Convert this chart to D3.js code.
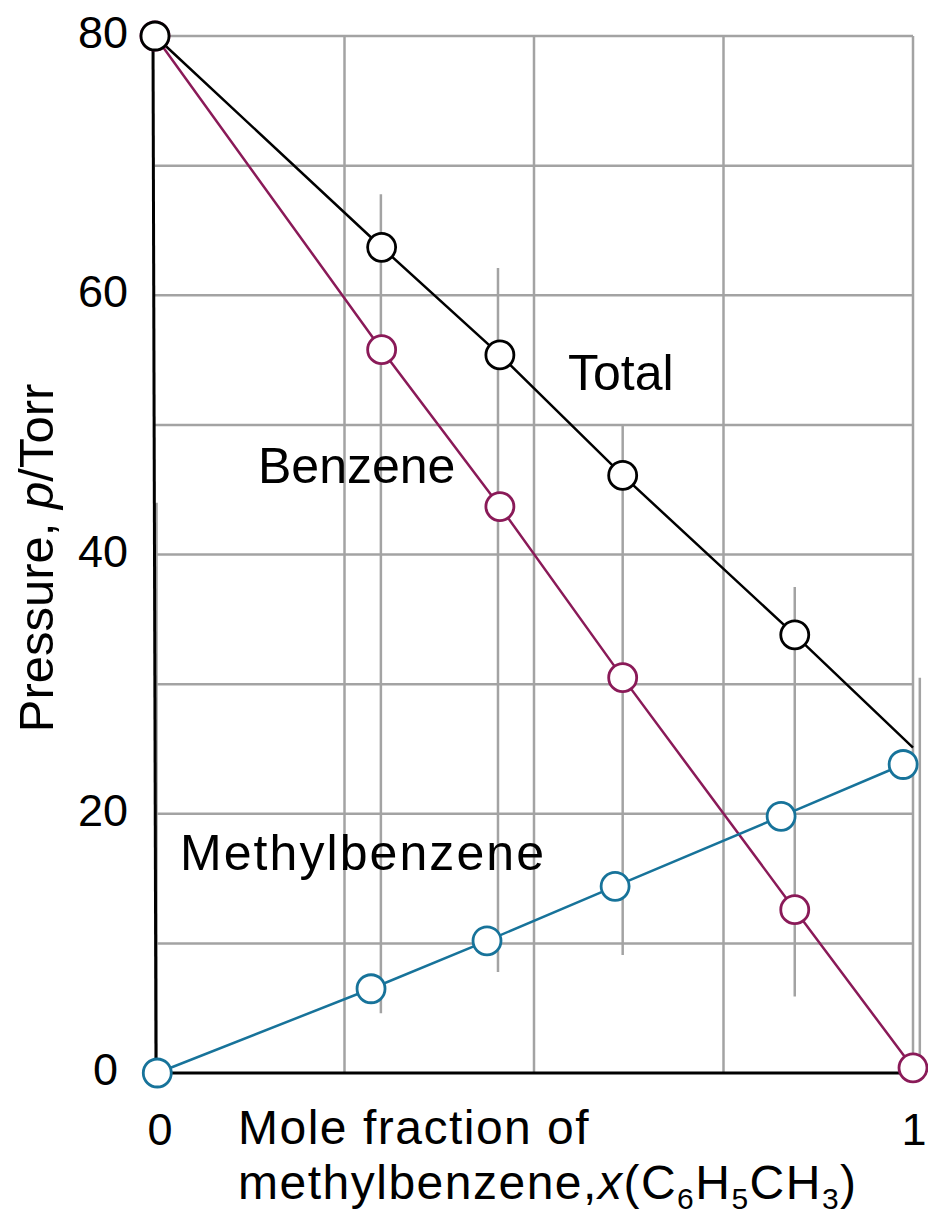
<!DOCTYPE html>
<html>
<head>
<meta charset="utf-8">
<script src="https://cdn.jsdelivr.net/npm/d3@7"></script>
<style>
  body { margin: 0; background: #fff; overflow: hidden; }
  svg { display: block; font-family: "Liberation Sans", Arial, sans-serif; }
</style>
</head>
<body>
<div id="chart"></div>
<script>
// mole fraction of methylbenzene where the measurements were taken
const moleX = [0, 0.299, 0.455, 0.617, 0.844, 1];
const totalP = [80, 63.7, 55.4, 46.1, 33.8, 25.1];
const benzeneP = [80, 55.8, 43.7, 30.5, 12.6, 0.4];
// methylbenzene points sit a little left of the others in the figure
const methylX = [0.003, 0.285, 0.438, 0.607, 0.826, 0.987];
const methylP = [0, 6.5, 10.2, 14.4, 19.8, 23.8];

// grey drop lines at each composition
const dropX = [0.002, 0.298, 0.4525, 0.617, 0.844, 1.009];
const dropTop = [44, 67.8, 62.1, 50.0, 37.5, 30.5];
const dropBottom = [0, 4.6, 7.8, 9.1, 5.9, 0];

const yTicks = [0, 20, 40, 60, 80];
const yGrid = [10, 20, 30, 40, 50, 60, 70, 80];
const xGrid = [0.25, 0.5, 0.75, 1];
const xTicks = [0, 1];

const width = 928;
const height = 1216;

const x = d3.scaleLinear().domain([0, 1]).range([155, 913]);
const y = d3.scaleLinear().domain([0, 80]).range([1073, 36]);

const svg = d3.select("#chart").append("svg")
    .attr("width", width)
    .attr("height", height)
    .attr("viewBox", [0, 0, width, height]);

const grey = "#a3a3a3";
const purple = "#8a1a58";
const teal = "#17739a";

// grid
svg.append("g")
    .selectAll("line")
    .data(yGrid)
    .join("line")
      .attr("x1", x(0)).attr("x2", x(1))
      .attr("y1", d => y(d)).attr("y2", d => y(d))
      .attr("stroke", grey).attr("stroke-width", 2.5);

svg.append("g")
    .selectAll("line")
    .data(xGrid)
    .join("line")
      .attr("x1", d => x(d)).attr("x2", d => x(d))
      .attr("y1", y(0)).attr("y2", y(80))
      .attr("stroke", grey).attr("stroke-width", 2.5);

// drop lines
svg.append("g")
    .selectAll("line")
    .data(dropX)
    .join("line")
      .attr("x1", d => x(d)).attr("x2", d => x(d))
      .attr("y1", (d, i) => y(dropTop[i]))
      .attr("y2", (d, i) => y(dropBottom[i]))
      .attr("stroke", grey).attr("stroke-width", 2.5);

// axes lines
svg.append("line")
    .attr("x1", x(0) - 2).attr("x2", x(0) + 1)
    .attr("y1", y(80)).attr("y2", y(0))
    .attr("stroke", "#000").attr("stroke-width", 3);
svg.append("line")
    .attr("x1", x(0)).attr("x2", x(1))
    .attr("y1", y(0)).attr("y2", y(0))
    .attr("stroke", "#000").attr("stroke-width", 3);

// tick labels
svg.append("g")
    .selectAll("text")
    .data(yTicks)
    .join("text")
      .attr("x", d => d === 0 ? 118 : 128)
      .attr("y", d => y(d) - 4)
      .attr("dy", "0.36em")
      .attr("text-anchor", "end")
      .attr("font-size", 45)
      .text(d => d);

svg.append("g")
    .selectAll("text")
    .data(xTicks)
    .join("text")
      .attr("x", d => d === 0 ? x(d) + 5 : x(d) + 1)
      .attr("y", 1145)
      .attr("text-anchor", "middle")
      .attr("font-size", 45)
      .text(d => d);

// series
const series = [
  {xs: moleX, ys: benzeneP, color: purple, markers: [0, 1, 2, 3, 4, 5]},
  {xs: methylX, ys: methylP, color: teal, markers: [0, 1, 2, 3, 4, 5]},
  {xs: moleX, ys: totalP, color: "#000", markers: [0, 1, 2, 3, 4]}
];

const line = d3.line().x(d => x(d[0])).y(d => y(d[1]));

series.forEach(s => {
  const pts = s.xs.map((v, i) => [v, s.ys[i]]);
  svg.append("path")
      .datum(pts)
      .attr("d", line)
      .attr("fill", "none")
      .attr("stroke", s.color)
      .attr("stroke-width", 2.5);
});

series.forEach(s => {
  svg.append("g")
    .selectAll("circle")
    .data(s.markers)
    .join("circle")
      .attr("cx", i => x(s.xs[i]))
      .attr("cy", i => y(s.ys[i]))
      .attr("r", 14)
      .attr("fill", "#fff")
      .attr("stroke", s.color)
      .attr("stroke-width", 2.8);
});

// series labels
svg.append("text").attr("x", 568).attr("y", 390).attr("font-size", 50).text("Total");
svg.append("text").attr("x", 258).attr("y", 483).attr("font-size", 50).text("Benzene");
svg.append("text").attr("x", 180).attr("y", 870).attr("font-size", 50)
    .attr("textLength", 364).attr("lengthAdjust", "spacing").text("Methylbenzene");

// y axis title
const yt = svg.append("text")
    .attr("transform", "translate(53,558) rotate(-90)")
    .attr("text-anchor", "middle")
    .attr("font-size", 49);
yt.append("tspan").text("Pressure, ");
yt.append("tspan").attr("font-style", "italic").text("p");
yt.append("tspan").text("/Torr");

// x axis title, two lines in one text element
const xt = svg.append("text")
    .attr("x", 238).attr("y", 1144)
    .attr("font-size", 48)
    .attr("letter-spacing", 1.5);
xt.append("tspan").text("Mole fraction of");
xt.append("tspan").attr("x", 238).attr("dy", 55).text("methylbenzene,");
xt.append("tspan").attr("font-style", "italic").text("x");
xt.append("tspan").text("(C");
xt.append("tspan").attr("font-size", 30).attr("dy", 10).text("6");
xt.append("tspan").attr("dy", -10).text("H");
xt.append("tspan").attr("font-size", 30).attr("dy", 10).text("5");
xt.append("tspan").attr("dy", -10).text("CH");
xt.append("tspan").attr("font-size", 30).attr("dy", 10).text("3");
xt.append("tspan").attr("dy", -10).text(")");
</script>
</body>
</html>
